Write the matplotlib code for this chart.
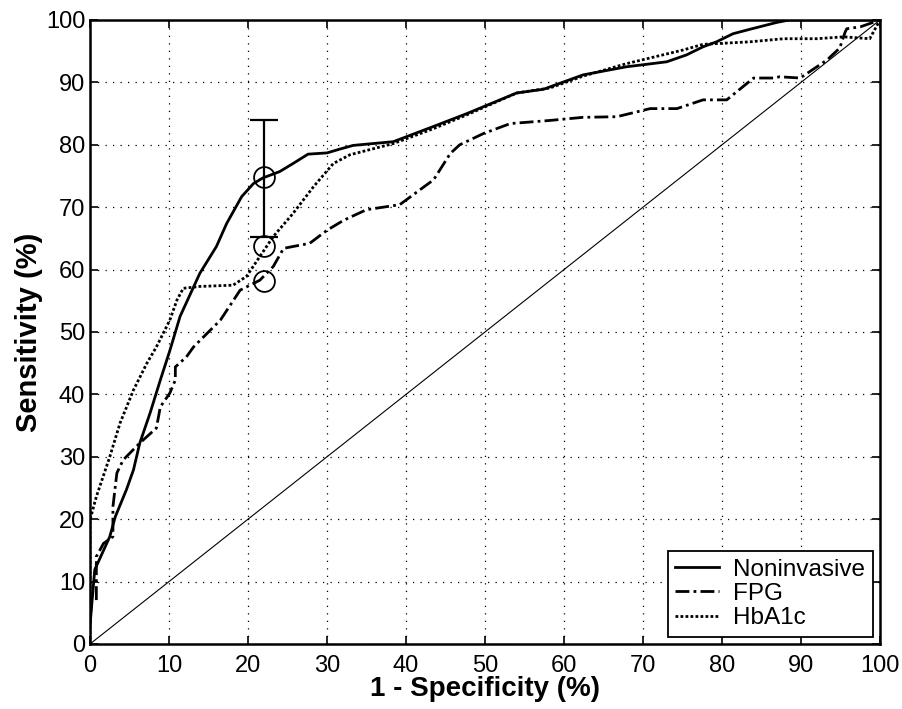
import numpy as np
import matplotlib
matplotlib.use('Agg')
import matplotlib.pyplot as plt

plt.rcParams['font.family'] = ['Liberation Sans', 'DejaVu Sans']

# ROC curves: 1 - specificity (%) vs sensitivity (%)
noninv_x = [0, 0.2, 0.6, 2.5, 3.2, 4.6, 5.5, 6.3, 7.6, 8.9, 10.1, 11.4, 13.9, 16, 17.3,
            19.2, 20.7, 21.9, 24, 25.7, 27.6, 30, 31.6, 33.3, 38.4, 43.4, 47.7, 54, 57.4,
            62.4, 67.9, 73, 75.5, 77.6, 79.3, 81.4, 83.5, 86.9, 88.5, 100]
noninv_y = [3, 6, 11.9, 17.2, 20.4, 24.7, 27.9, 32.2, 37, 42.3, 47, 52.5, 59.4, 63.7, 67.4,
            71.7, 73.8, 74.7, 75.7, 77, 78.5, 78.7, 79.3, 79.9, 80.5, 82.9, 85, 88.3, 88.9,
            91.2, 92.5, 93.3, 94.4, 95.7, 96.5, 97.8, 98.5, 99.6, 100, 100]

fpg_x = [0, 0.2, 0.8, 0.8, 1.7, 2.9, 2.9, 3.4, 4.2, 6.3, 8.4, 8.9, 10.1, 10.8, 10.8, 12.2,
         13.1, 16.5, 19, 21.5, 23.2, 24.5, 25.7, 27.8, 30, 32.1, 35, 39.2, 43.5, 45.6,
         46.8, 49.8, 53.2, 58.2, 62.4, 66.7, 70.9, 74.3, 77.6, 80.6, 84, 86.5, 87.3,
         89.9, 93.3, 94.9, 95.6, 95.8, 97.5, 100]
fpg_y = [3.8, 7, 7, 14, 16.1, 17.2, 22, 27.4, 29.5, 32.2, 34.6, 38, 40.2, 42.3, 44.4, 46,
         47.6, 51.9, 56.7, 58.3, 60.5, 63.4, 63.7, 64.2, 66.3, 67.9, 69.6, 70.4, 74.4,
         78.6, 80, 81.8, 83.4, 83.9, 84.4, 84.5, 85.8, 85.8, 87.2, 87.2, 90.7, 90.7, 90.9,
         90.7, 93.6, 95.5, 98.1, 98.6, 98.9, 100]

hba_x = [0, 0, 0.8, 2.5, 3.8, 5.5, 7.2, 8.4, 10.1, 11, 11.8, 13.9, 18.1, 19.8, 21.5, 23.2,
         25.7, 28.3, 30.8, 32.9, 38.4, 43.5, 47.7, 54, 58.2, 62.4, 67.9, 75.1, 77.6,
         83.5, 87.8, 92, 95.4, 98.7, 100]
hba_y = [0, 19.9, 23.6, 30, 35.4, 40.7, 45, 47.6, 51.9, 55.1, 57, 57.3, 57.5, 58.9, 62.1,
         65.3, 69, 73.3, 77, 78.4, 80.2, 82.6, 84.8, 88.3, 89.1, 91, 93, 95.2, 96.1,
         96.5, 97, 97, 97.3, 97, 100]

# operating points and error bar at 22 % false-positive rate
op_x = 22
op_y = [74.8, 63.8, 58.2]
err_lo, err_hi = 65.3, 83.9

fig = plt.figure(figsize=(9.02, 7.09), dpi=100)
ax = fig.add_axes([0.0998, 0.0917, 0.8758, 0.8801])

ax.plot([0, 100], [0, 100], color='black', lw=0.8)
ax.plot(noninv_x, noninv_y, color='black', lw=2.0, ls='-', label='Noninvasive')
ax.plot(fpg_x, fpg_y, color='black', lw=2.0, ls=(0, (5, 1.5, 1, 1.5)), label='FPG')
ax.plot(hba_x, hba_y, color='black', lw=2.0, ls=(0, (1, 0.8)), label='HbA1c')

ax.errorbar([op_x], [op_y[0]], yerr=[[op_y[0] - err_lo], [err_hi - op_y[0]]],
            fmt='none', ecolor='black', elinewidth=1.6, capsize=10, capthick=1.6)
ax.plot([op_x] * 3, op_y, ls='none', marker='o', ms=15, mfc='none', mec='black', mew=1.3)

ax.set_xlim(0, 100)
ax.set_ylim(0, 100)
ax.set_xticks(np.arange(0, 101, 10))
ax.set_yticks(np.arange(0, 101, 10))
ax.grid(True, color='black', ls=(0, (1, 5)), lw=0.9)
ax.tick_params(direction='in', top=True, right=True, labelsize=17, length=6, width=1.2)
ax.tick_params(axis='x', pad=8)
for sp in ax.spines.values():
    sp.set_linewidth(1.8)

ax.set_xlabel('1 - Specificity (%)', fontsize=20, fontweight='bold', labelpad=-1)
ax.set_ylabel('Sensitivity (%)', fontsize=21, fontweight='bold', labelpad=2)

leg = ax.legend(loc='lower right', fontsize=17.5, frameon=True, fancybox=False,
                edgecolor='black', framealpha=1, handlelength=1.8, borderpad=0.3,
                labelspacing=0.1, borderaxespad=0.3, handletextpad=0.6)
leg.get_frame().set_linewidth(1.3)

fig.savefig('out.png', dpi=100)
